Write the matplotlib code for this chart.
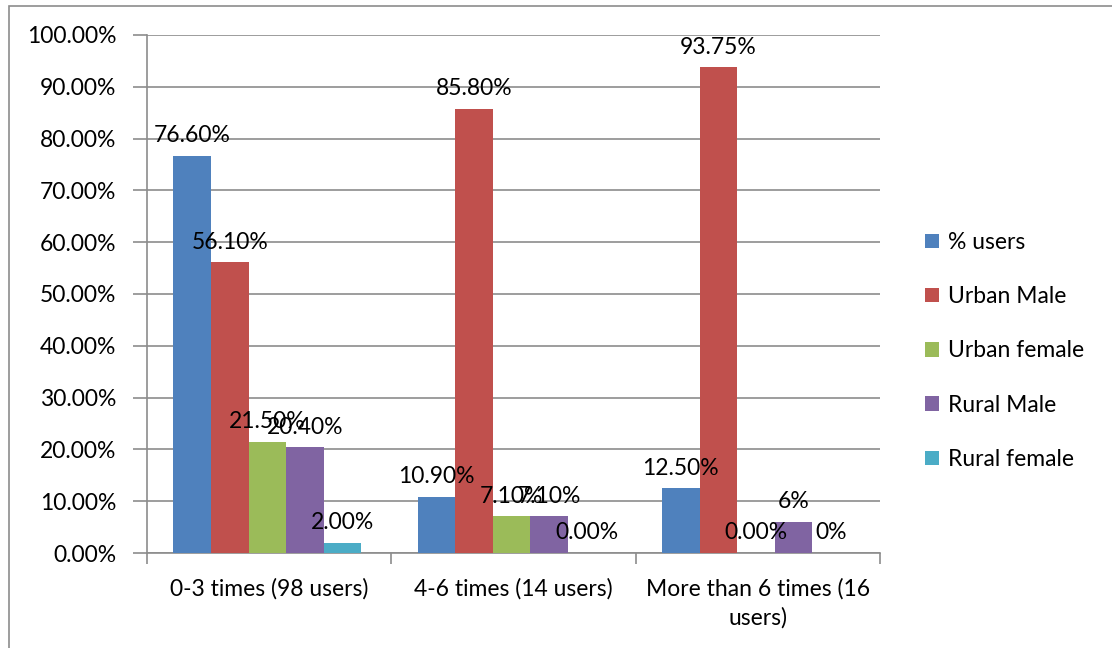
import matplotlib.pyplot as plt
import numpy as np
from matplotlib.patches import Rectangle

plt.rcParams['font.family'] = ['Lato', 'DejaVu Sans']

# Data
categories = ['0-3 times (98 users)', '4-6 times (14 users)', 'More than 6 times (16\nusers)']
series_names = ['% users', 'Urban Male', 'Urban female', 'Rural Male', 'Rural female']
pct_users = [76.60, 10.90, 12.50]
urban_male = [56.10, 85.80, 93.75]
urban_female = [21.50, 7.10, 0.00]
rural_male = [20.40, 7.10, 6.0]
rural_female = [2.00, 0.00, 0.0]
value_labels = [
    ['76.60%', '10.90%', '12.50%'],
    ['56.10%', '85.80%', '93.75%'],
    ['21.50%', '7.10%', '0.00%'],
    ['20.40%', '7.10%', '6%'],
    ['2.00%', '0.00%', '0%'],
]
colors = ['#4F81BD', '#C0504D', '#9BBB59', '#8064A2', '#4BACC6']

series = [pct_users, urban_male, urban_female, rural_male, rural_female]
FS = 16.5

fig = plt.figure(figsize=(11.12, 6.48), dpi=100)
ax = fig.add_axes([0.1322, 0.1466, 0.6592, 0.7994])

# outer chart border
fig.patches.append(Rectangle((9 / 1112, -0.1), 1.2, 1 - 6 / 648 + 0.1,
                             transform=fig.transFigure, fill=False,
                             edgecolor='#8c8c8c', linewidth=1.2))

n = len(series)
bar_w = 1.0 / (n + 1.5)
x = np.arange(len(categories))
for i, (vals, col, name) in enumerate(zip(series, colors, series_names)):
    pos = x - 0.5 + 0.7 * bar_w + (i + 0.5) * bar_w
    ax.bar(pos, vals, width=bar_w, color=col, label=name, zorder=3)
    for p, v, lab in zip(pos, vals, value_labels[i]):
        ax.annotate(lab, (p, v), xytext=(0, 7), textcoords='offset points',
                    ha='center', va='bottom', fontsize=FS, color='black', zorder=4)

ax.set_xlim(-0.5, len(categories) - 0.5)
ax.set_ylim(0, 100)
ax.set_yticks(np.arange(0, 101, 10))
ax.set_yticklabels([f'{v:.2f}%' for v in np.arange(0, 101, 10)], fontsize=FS)
ax.grid(True, axis='y', color='#8c8c8c', linewidth=1.2, zorder=0)
ax.tick_params(axis='y', length=10, width=1.2, color='#8c8c8c', pad=12)

ax.set_xticks(x)
ax.set_xticklabels(categories, fontsize=FS, linespacing=1.45)
ax.tick_params(axis='x', length=0, pad=18)
ax.set_xticks(np.arange(-0.5, len(categories)), minor=True)
ax.tick_params(axis='x', which='minor', length=8, width=1.2, color='#8c8c8c')

for s in ['top', 'right']:
    ax.spines[s].set_visible(False)
for s in ['left', 'bottom']:
    ax.spines[s].set_color('#8c8c8c')
    ax.spines[s].set_linewidth(1.2)

ax.legend(loc='center left', bbox_to_anchor=(1.033, 0.39), frameon=False,
          fontsize=FS, handlelength=0.6, handleheight=0.6, handletextpad=0.4,
          labelspacing=1.45)

fig.savefig('out.png', dpi=100)
